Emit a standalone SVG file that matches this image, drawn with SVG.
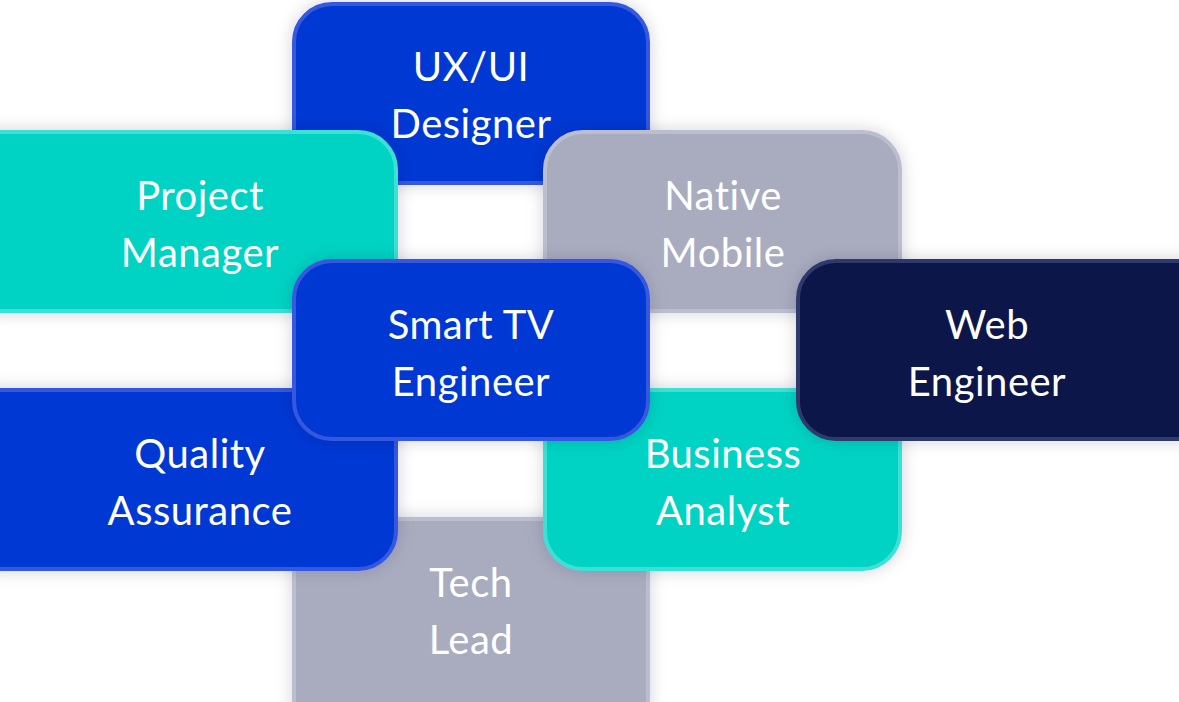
<svg xmlns="http://www.w3.org/2000/svg" width="1179" height="702" viewBox="0 0 1179 702">
<defs>
<filter id="sh" x="-20%" y="-20%" width="140%" height="140%"><feDropShadow dx="0" dy="0" stdDeviation="8" flood-color="#1a1f40" flood-opacity="0.18"/></filter>
<style>
.b{fill:#0437D4;stroke:#3558DE;stroke-width:4}
.t{fill:#00D3C3;stroke:#3EE0D4;stroke-width:4}
.g{fill:#A9ACBF;stroke:#BBBECD;stroke-width:4}
.n{fill:#07134A;stroke:#2F3A6A;stroke-width:4}
text{font-family:Lato,"Noto Sans",sans-serif;font-size:40px;fill:#fff;text-anchor:middle;letter-spacing:0.5px}
g>path{filter:url(#sh)}
</style>
</defs>
<rect width="1179" height="702" fill="#ffffff"/>
<g id="tech-lead"><path class="g" d="M294 519H648V712H294Z"/><text x="471" y="597">Tech</text><text x="471" y="654">Lead</text></g>
<g id="ux-ui-designer"><path class="b" d="M294 183V42A38 38 0 0 1 332 4H610A38 38 0 0 1 648 42V183Z"/><text x="471" y="81">UX/UI</text><text x="471" y="138">Designer</text></g>
<g id="project-manager"><path class="t" d="M-10 132H358A38 38 0 0 1 396 170V311H-10Z"/><text x="200" y="210">Project</text><text x="200" y="267">Manager</text></g>
<g id="native-mobile"><path class="g" d="M545 311V170A38 38 0 0 1 583 132H862A38 38 0 0 1 900 170V311Z"/><text x="723" y="210">Native</text><text x="723" y="267">Mobile</text></g>
<g id="quality-assurance"><path class="b" d="M-10 390H396V531A38 38 0 0 1 358 569H-10Z"/><text x="200" y="468">Quality</text><text x="200" y="525">Assurance</text></g>
<g id="business-analyst"><path class="t" d="M545 390H900V531A38 38 0 0 1 862 569H583A38 38 0 0 1 545 531Z"/><text x="723" y="468">Business</text><text x="723" y="525">Analyst</text></g>
<g id="smart-tv-engineer"><path class="b" d="M332 261H610A38 38 0 0 1 648 299V401A38 38 0 0 1 610 439H332A38 38 0 0 1 294 401V299A38 38 0 0 1 332 261Z"/><text x="471" y="339">Smart TV</text><text x="471" y="396">Engineer</text></g>
<g id="web-engineer"><path class="n" d="M1190 261H836A38 38 0 0 0 798 299V401A38 38 0 0 0 836 439H1190Z"/><text x="987" y="339">Web</text><text x="987" y="396">Engineer</text></g>
<g id="connectors"/>
</svg>
